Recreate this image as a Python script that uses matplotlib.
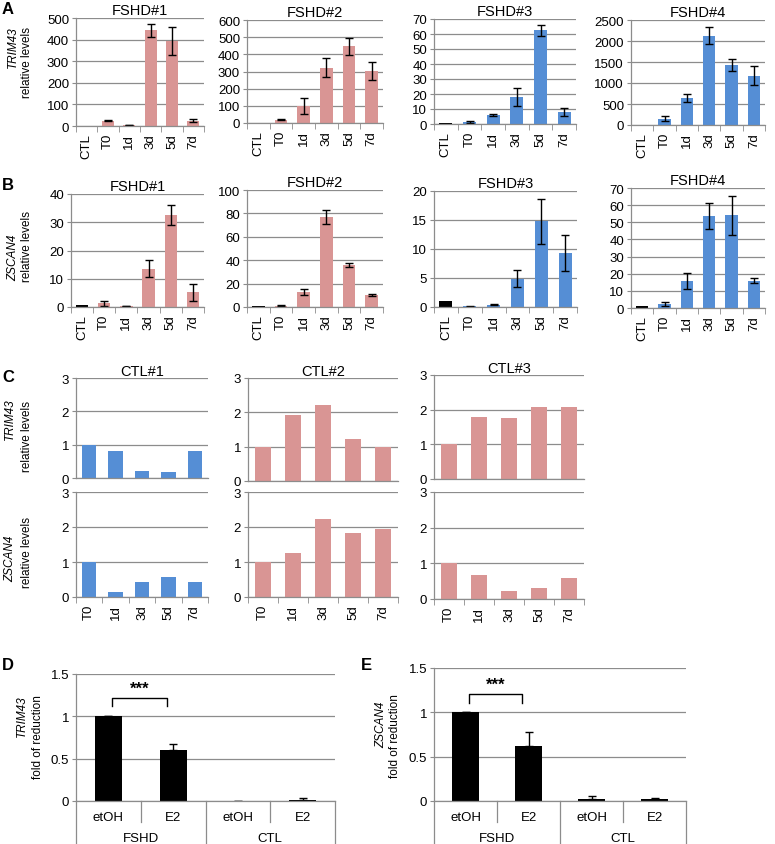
import numpy as np
import matplotlib
matplotlib.use("Agg")
import matplotlib.pyplot as plt
from matplotlib.ticker import FuncFormatter

plt.rcParams['font.family'] = ['Liberation Sans', 'DejaVu Sans']
plt.rcParams['font.size'] = 9.5

PINK = '#d99594'
BLUE = '#558ed5'
GRID = '#8c8c8c'

# ---- data ----
time_cats = ['CTL', 'T0', '1d', '3d', '5d', '7d']
ctl_cats = ['T0', '1d', '3d', '5d', '7d']

# panel A: TRIM43 relative levels
a_vals = {
    'FSHD#1': [1, 25, 5, 443, 393, 25],
    'FSHD#2': [1, 20, 100, 323, 447, 302],
    'FSHD#3': [0.8, 1.3, 6, 18, 62.5, 8],
    'FSHD#4': [1, 150, 640, 2130, 1430, 1170],
}
a_errs = {
    'FSHD#1': [0, 2, 1.5, 29, 66, 8],
    'FSHD#2': [0, 3, 45, 54, 48, 51],
    'FSHD#3': [0, 0.8, 0.7, 6, 3.5, 2.5],
    'FSHD#4': [0, 55, 90, 200, 135, 225],
}
a_ymax = {'FSHD#1': (500, 100), 'FSHD#2': (600, 100), 'FSHD#3': (70, 10), 'FSHD#4': (2500, 500)}

# panel B: ZSCAN4 relative levels
b_vals = {
    'FSHD#1': [0.8, 1.3, 0.4, 13.5, 32.5, 5.2],
    'FSHD#2': [1, 1, 12.5, 77, 36, 10.5],
    'FSHD#3': [1, 0.1, 0.4, 4.9, 14.8, 9.3],
    'FSHD#4': [1, 2.5, 15.8, 53.5, 54, 16],
}
b_errs = {
    'FSHD#1': [0, 0.9, 0.1, 3, 3.5, 3],
    'FSHD#2': [0, 0.3, 2.5, 6, 2, 1],
    'FSHD#3': [0, 0.05, 0.1, 1.5, 3.9, 3.1],
    'FSHD#4': [0, 1.2, 4.5, 7.5, 11.5, 1.3],
}
b_ymax = {'FSHD#1': (40, 10), 'FSHD#2': (100, 20), 'FSHD#3': (20, 5), 'FSHD#4': (70, 10)}
fshd_colors = {'FSHD#1': PINK, 'FSHD#2': PINK, 'FSHD#3': BLUE, 'FSHD#4': BLUE}

# panel C: controls
c_trim = {'CTL#1': [1, 0.82, 0.22, 0.19, 0.82],
          'CTL#2': [1, 1.93, 2.2, 1.22, 0.98],
          'CTL#3': [1, 1.78, 1.77, 2.07, 2.09]}
c_zscan = {'CTL#1': [1, 0.15, 0.42, 0.56, 0.43],
           'CTL#2': [1, 1.26, 2.24, 1.83, 1.93],
           'CTL#3': [1, 0.68, 0.23, 0.31, 0.59]}
ctl_colors = {'CTL#1': BLUE, 'CTL#2': PINK, 'CTL#3': PINK}

# panels D/E: fold of reduction
de_cats = ['etOH', 'E2', 'etOH', 'E2']
de_groups = ['FSHD', 'CTL']
d_vals = [1.0, 0.6, 0.005, 0.015]
d_errs = [0, 0.07, 0, 0.02]
e_vals = [1.0, 0.62, 0.025, 0.025]
e_errs = [0, 0.16, 0.03, 0.01]

# ---- layout ----
W, H = 775, 845
fig = plt.figure(figsize=(W / 100, H / 100), dpi=100)


def add_ax(l, t, r, b):
    return fig.add_axes([l / W, 1 - b / H, (r - l) / W, (b - t) / H])


def excel_style(ax, n, ymax, step, cats=None):
    ax.set_xlim(-0.5, n - 0.5)
    ax.set_ylim(0, ymax)
    ax.set_yticks(np.arange(0, ymax + step / 2, step))
    ax.yaxis.set_major_formatter(FuncFormatter(lambda v, p: '{:g}'.format(v)))
    ax.yaxis.grid(True, color=GRID, lw=0.9)
    ax.set_axisbelow(True)
    for s in ['top', 'right']:
        ax.spines[s].set_visible(False)
    for s in ['left', 'bottom']:
        ax.spines[s].set_color(GRID)
        ax.spines[s].set_linewidth(0.9)
    ax.tick_params(axis='y', length=3, color=GRID, pad=2, labelsize=9.5)
    ax.set_xticks(range(n))
    ax.set_xticks(np.arange(-0.5, n), minor=True)
    ax.tick_params(axis='x', which='major', length=0, pad=5, labelsize=9.5)
    ax.tick_params(axis='x', which='minor', length=4, color=GRID, direction='out')
    if cats is not None:
        ax.set_xticklabels(cats, rotation=90)
    else:
        ax.set_xticklabels([])


def time_panel(box, name, vals, errs, ymax, step):
    ax = add_ax(*box)
    x = np.arange(len(time_cats))
    cols = ['black'] + [fshd_colors[name]] * (len(time_cats) - 1)
    ax.bar(x, vals, width=0.55, color=cols)
    ax.errorbar(x[1:], vals[1:], yerr=errs[1:], fmt='none', ecolor='black',
                elinewidth=1, capsize=3, capthick=1)
    excel_style(ax, len(time_cats), ymax, step, time_cats)
    ax.set_title(name, fontsize=10.5, pad=3)
    return ax


boxes_a = [(76, 19, 204, 127), (247, 21, 383, 124), (434, 20, 576, 125), (631, 21, 765, 126)]
boxes_b = [(71, 195, 204, 308), (247, 191, 383, 308), (434, 192, 577, 308), (631, 189, 765, 309)]
for box, name in zip(boxes_a, a_vals):
    time_panel(box, name, a_vals[name], a_errs[name], *a_ymax[name])
for box, name in zip(boxes_b, b_vals):
    time_panel(box, name, b_vals[name], b_errs[name], *b_ymax[name])

boxes_ct = [(76, 379, 208, 479), (248, 379, 398, 482), (434, 376, 584, 480)]
boxes_cb = [(76, 493, 208, 598), (248, 493, 398, 598), (434, 493, 584, 600)]
for bt, bb, name in zip(boxes_ct, boxes_cb, c_trim):
    x = np.arange(len(ctl_cats))
    ax = add_ax(*bt)
    ax.bar(x, c_trim[name], width=0.55, color=ctl_colors[name])
    excel_style(ax, len(ctl_cats), 3, 1, None)
    ax.tick_params(axis='x', which='minor', length=0)
    ax.set_title(name, fontsize=10.5, pad=2)
    ax = add_ax(*bb)
    ax.bar(x, c_zscan[name], width=0.55, color=ctl_colors[name])
    excel_style(ax, len(ctl_cats), 3, 1, ctl_cats)


def fold_panel(box, vals, errs, bracket_y):
    ax = add_ax(*box)
    x = np.arange(len(de_cats))
    ax.bar(x, vals, width=0.42, color='black')
    ax.errorbar(x, vals, yerr=[np.zeros(len(errs)), errs], fmt='none', ecolor='black',
                elinewidth=1, capsize=3, capthick=1)
    excel_style(ax, len(de_cats), 1.5, 0.5, de_cats)
    ax.set_xticklabels(de_cats, rotation=0)
    ax.tick_params(axis='x', which='minor', length=0)
    ax.tick_params(axis='x', which='major', pad=7)
    tr = ax.get_xaxis_transform()
    hpx = (box[3] - box[1])
    deep = -(H - box[3]) / hpx
    short = -21 / hpx
    for xb, y0 in zip(np.arange(-0.5, len(de_cats)), [deep, short, deep, short, deep]):
        ax.plot([xb, xb], [0, y0], transform=tr, color=GRID, lw=0.9, clip_on=False)
    for gi, g in enumerate(de_groups):
        ax.text(2 * gi + 0.5, -37 / hpx, g, transform=tr, ha='center', va='center', fontsize=9.5)
    # significance bracket
    ax.plot([0.06, 0.06, 0.9, 0.9], [bracket_y - 0.1, bracket_y, bracket_y, bracket_y - 0.1],
            color='black', lw=1)
    ax.text(0.48, bracket_y + 0.02, '***', ha='center', va='bottom', fontsize=12, fontweight='bold')
    return ax


fold_panel((76, 675, 335, 802), d_vals, d_errs, 1.22)
fold_panel((434, 669, 686, 802), e_vals, e_errs, 1.21)

# y-axis labels
ylabels = [
    (13, 47, 'TRIM43', 27, 62, 'relative levels'),
    (13, 258, 'ZSCAN4', 27, 246, 'relative levels'),
    (10, 419, 'TRIM43', 27, 437, 'relative levels'),
    (10, 559, 'ZSCAN4', 27, 553, 'relative levels'),
    (22, 716, 'TRIM43', 38, 737, 'fold of reduction'),
    (381, 725, 'ZSCAN4', 395, 736, 'fold of reduction'),
]
for gx, gy, gene, lx, ly, lab in ylabels:
    fig.text(gx / W, 1 - gy / H, gene, rotation=90, style='italic', ha='center', va='center', fontsize=8.5)
    fig.text(lx / W, 1 - ly / H, lab, rotation=90, ha='center', va='center', fontsize=8.5)

# panel letters
for lx, ly, letter in [(8, 10, 'A'), (8, 186, 'B'), (8, 378, 'C'), (8, 666, 'D'), (366, 666, 'E')]:
    fig.text(lx / W, 1 - ly / H, letter, fontweight='bold', fontsize=12, ha='center', va='center')

fig.savefig('out.png', dpi=100)
